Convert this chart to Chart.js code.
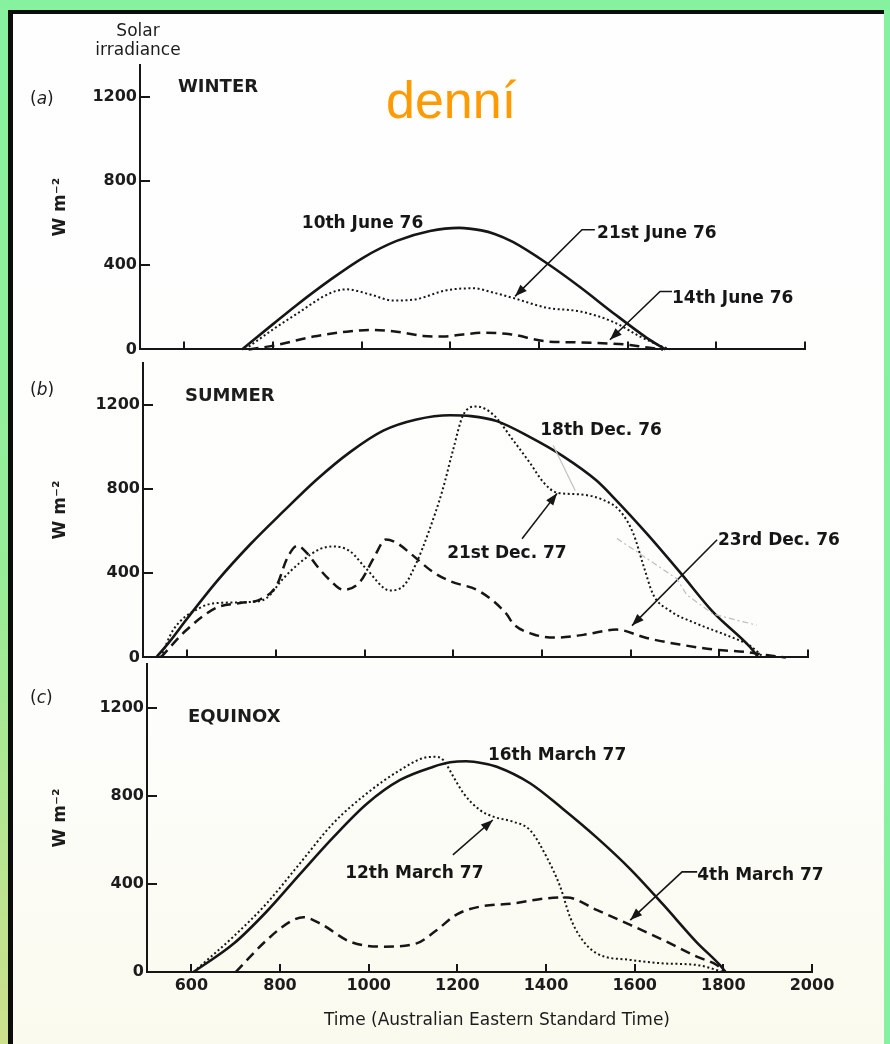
<!DOCTYPE html>
<html><head><meta charset="utf-8">
<script src="https://cdn.jsdelivr.net/npm/chart.js@4.4.1/dist/chart.umd.min.js"></script>
<style>
html,body{margin:0;padding:0;background:#fff;}
#page{position:relative;width:890px;height:1044px;overflow:hidden;background:#86f2a0;}
#leftstrip{position:absolute;left:0;top:0;width:9px;height:1044px;background:linear-gradient(#86f2a0,#98ec98 55%,#cde08c);}
#sheet{position:absolute;left:8px;top:10px;width:876px;height:1034px;background:linear-gradient(#fefefe 0%,#fdfdfb 70%,#fafaee 100%);border-top:4px solid #0c0c0c;border-left:5px solid #0c0c0c;box-sizing:border-box;}
canvas{position:absolute;left:0;}
.t{position:absolute;font-family:"DejaVu Sans";color:#1c1c1c;white-space:nowrap;line-height:1;}
</style></head>
<body>
<div id="page">
  <div id="leftstrip"></div>
  <div id="sheet"></div>
  <canvas id="cA" width="890" height="372" style="top:0px"></canvas>
  <canvas id="cB" width="890" height="340" style="top:340px"></canvas>
  <canvas id="cC" width="890" height="404" style="top:640px"></canvas>
  <div class="t" style="left:138px;top:22px;font-size:17px;transform:translateX(-50%)">Solar</div>
  <div class="t" style="left:138px;top:41px;font-size:17px;transform:translateX(-50%)">irradiance</div>
  <div class="t" style="left:30px;top:90px;font-size:17px">(<i>a</i>)</div>
  <div class="t" style="left:178px;top:77px;font-size:18px;font-weight:bold">WINTER</div>
  <div class="t" style="left:30px;top:381px;font-size:17px">(<i>b</i>)</div>
  <div class="t" style="left:185px;top:386px;font-size:18px;font-weight:bold">SUMMER</div>
  <div class="t" style="left:30px;top:689px;font-size:17px">(<i>c</i>)</div>
  <div class="t" style="left:188px;top:707px;font-size:18px;font-weight:bold">EQUINOX</div>
  <div class="t" style="left:497px;top:1011px;font-size:17px;transform:translateX(-50%)">Time (Australian Eastern Standard Time)</div>
  <div class="t" style="left:386px;top:74px;font-size:52px;font-family:'Liberation Sans';color:#ff9a00">denní</div>
</div>
<script>
// ---- axis ticks ----
const timeTicks = [600, 800, 1000, 1200, 1400, 1600, 1800, 2000];
const irrTicks = [0, 400, 800, 1200];

// ---- (a) WINTER ----
const june10Time = [730, 800, 853, 929, 1003, 1079, 1154, 1220, 1270, 1300, 1341, 1417, 1493, 1568, 1643, 1685];
const june10Irr  = [0, 120, 210, 330, 435, 515, 562, 577, 565, 548, 510, 410, 295, 172, 55, 0];
const june21Time = [737, 800, 853, 929, 966, 1019, 1071, 1117, 1192, 1252, 1300, 1342, 1417, 1493, 1568, 1628, 1673, 1695];
const june21Irr  = [0, 95, 168, 267, 285, 261, 232, 236, 281, 290, 268, 244, 198, 180, 130, 61, 18, 0];
const june14Time = [745, 801, 891, 966, 1019, 1079, 1139, 1184, 1229, 1274, 1335, 1417, 1493, 1568, 1605, 1640, 1680];
const june14Irr  = [0, 18, 61, 84, 92, 84, 64, 61, 71, 79, 72, 38, 33, 27, 21, 10, 0];

// ---- (b) SUMMER ----
const dec18Time = [530, 560, 598, 666, 741, 816, 892, 967, 1042, 1117, 1193, 1240, 1298, 1373, 1448, 1523, 1568, 1636, 1711, 1786, 1869, 1888];
const dec18Irr  = [0, 75, 180, 360, 535, 692, 845, 975, 1077, 1130, 1150, 1146, 1122, 1046, 955, 840, 745, 589, 405, 215, 50, 0];
const dec21Time = [540, 568, 629, 666, 741, 779, 816, 854, 900, 929, 967, 1004, 1057, 1090, 1117, 1145, 1175, 1200, 1222, 1252, 1290, 1335, 1373, 1403, 1433, 1486, 1538, 1576, 1606, 1629, 1651, 1689, 1749, 1824, 1869, 1900];
const dec21Irr  = [0, 130, 236, 258, 263, 282, 374, 450, 515, 527, 504, 420, 318, 345, 450, 600, 790, 990, 1150, 1192, 1153, 1031, 923, 832, 783, 774, 748, 695, 588, 435, 298, 221, 160, 99, 56, 0];
const dec23Time = [540, 598, 666, 719, 764, 802, 825, 848, 870, 892, 920, 952, 990, 1020, 1048, 1075, 1102, 1155, 1193, 1260, 1320, 1335, 1380, 1433, 1493, 1568, 1636, 1711, 1786, 1862, 1910, 1950];
const dec23Irr  = [0, 130, 236, 258, 275, 344, 470, 530, 495, 435, 370, 321, 360, 470, 560, 540, 496, 404, 362, 313, 206, 160, 110, 94, 107, 132, 92, 61, 38, 25, 10, 0];

// ---- (c) EQUINOX ----
const mar16Time = [605, 695, 770, 845, 920, 996, 1071, 1146, 1184, 1220, 1260, 1289, 1364, 1439, 1514, 1590, 1665, 1740, 1793, 1805];
const mar16Irr  = [0, 128, 275, 445, 612, 765, 873, 933, 953, 958, 948, 933, 858, 740, 612, 468, 305, 135, 30, 0];
const mar12Time = [605, 695, 770, 845, 920, 996, 1071, 1131, 1150, 1168, 1191, 1214, 1251, 1281, 1326, 1364, 1401, 1432, 1454, 1477, 1514, 1590, 1665, 1740, 1800];
const mar12Irr  = [0, 161, 312, 494, 676, 812, 918, 976, 978, 964, 888, 812, 736, 706, 683, 645, 524, 388, 251, 160, 85, 55, 39, 32, 0];
const mar4Time  = [700, 770, 823, 853, 890, 958, 1033, 1108, 1150, 1199, 1251, 1326, 1402, 1447, 1514, 1590, 1665, 1740, 1785, 1805];
const mar4Irr   = [0, 145, 229, 249, 221, 138, 115, 130, 185, 262, 297, 312, 335, 339, 282, 214, 145, 70, 32, 0];

// ---- curve labels and pointer arrows (data coordinates) ----
const winterLabels = [
  {text: '10th June 76', x: 865, y: 577},
  {text: '21st June 76', x: 1531, y: 527},
  {text: '14th June 76', x: 1700, y: 220}
];
const winterArrows = [
  {pts: [[1526, 568], [1497, 568], [1346, 252]], head: true},
  {pts: [[1700, 275], [1673, 275], [1560, 46]], head: true}
];
const summerLabels = [
  {text: '18th Dec. 76', x: 1396, y: 1054},
  {text: '21st Dec. 77', x: 1186, y: 472},
  {text: '23rd Dec. 76', x: 1797, y: 536}
];
const summerArrows = [
  {pts: [[1355, 563], [1434, 779]], head: true},
  {pts: [[1795, 559], [1603, 151]], head: true},
  {pts: [[1425, 1008], [1475, 792]], color: '#c4c4c4', width: 1.2},
  {pts: [[1569, 565], [1704, 374], [1726, 298], [1786, 206], [1884, 153]], color: '#bdbdbd', width: 1.2, dash: [6, 3, 2, 3]}
];
const equinoxLabels = [
  {text: '16th March 77', x: 1269, y: 964},
  {text: '12th March 77', x: 947, y: 427},
  {text: '4th March 77', x: 1741, y: 418}
];
const equinoxArrows = [
  {pts: [[1190, 532], [1280, 691]], head: true},
  {pts: [[1741, 455], [1707, 455], [1590, 236]], head: true}
];

const INK = '#161616';

const annotate = {
  id: 'annotate',
  afterDatasetsDraw(chart, args, opts) {
    const {ctx} = chart;
    const xs = chart.scales.x, ys = chart.scales.y;
    const px = v => xs.getPixelForValue(v), py = v => ys.getPixelForValue(v);
    ctx.save();
    (opts.arrows || []).forEach(l => {
      const col = l.color || INK;
      ctx.beginPath();
      ctx.strokeStyle = col;
      ctx.lineWidth = l.width || 1.6;
      ctx.setLineDash(l.dash || []);
      l.pts.forEach((p, i) => i ? ctx.lineTo(px(p[0]), py(p[1])) : ctx.moveTo(px(p[0]), py(p[1])));
      ctx.stroke();
      if (l.head) {
        const n = l.pts.length, a = l.pts[n - 2], b = l.pts[n - 1];
        const x1 = px(a[0]), y1 = py(a[1]), x2 = px(b[0]), y2 = py(b[1]);
        const ang = Math.atan2(y2 - y1, x2 - x1), L = 12, W = 4.5;
        ctx.setLineDash([]);
        ctx.beginPath();
        ctx.moveTo(x2, y2);
        ctx.lineTo(x2 - L * Math.cos(ang) + W * Math.sin(ang), y2 - L * Math.sin(ang) - W * Math.cos(ang));
        ctx.lineTo(x2 - L * Math.cos(ang) - W * Math.sin(ang), y2 - L * Math.sin(ang) + W * Math.cos(ang));
        ctx.closePath();
        ctx.fillStyle = col;
        ctx.fill();
      }
    });
    ctx.setLineDash([]);
    ctx.font = 'bold 17px "DejaVu Sans"';
    ctx.fillStyle = INK;
    ctx.textAlign = 'left';
    ctx.textBaseline = 'alphabetic';
    (opts.labels || []).forEach(t => ctx.fillText(t.text, px(t.x), py(t.y)));
    ctx.restore();
  }
};

function series(times, vals, style) {
  const base = {data: times.map((t, i) => ({x: t, y: vals[i]})), borderColor: INK, pointRadius: 0,
    fill: false, cubicInterpolationMode: 'monotone', clip: 6};
  if (style === 'solid') return Object.assign(base, {borderWidth: 2.6});
  if (style === 'dotted') return Object.assign(base, {borderWidth: 2, borderDash: [2, 2.6]});
  return Object.assign(base, {borderWidth: 2.5, borderDash: [10, 6]});
}

function makePanel(id, p) {
  return new Chart(document.getElementById(id), {
    type: 'line',
    data: {datasets: p.datasets},
    plugins: [annotate],
    options: {
      responsive: false, animation: false, devicePixelRatio: 1, events: [],
      layout: {padding: {top: p.padTop, right: p.padRight, left: 0, bottom: 0}},
      plugins: {legend: {display: false}, tooltip: {enabled: false},
        annotate: {labels: p.labels, arrows: p.arrows}},
      scales: {
        x: {
          type: 'linear', min: 500, max: 2000,
          afterBuildTicks: s => { s.ticks = timeTicks.map(v => ({value: v})); },
          afterFit: s => { s.height = p.xHeight; },
          border: {display: true, color: INK, width: 2},
          grid: {display: true, drawOnChartArea: false, drawTicks: true, tickLength: -8, color: INK, lineWidth: 2},
          ticks: {display: p.showX, autoSkip: false, maxRotation: 0, padding: 12, color: '#1c1c1c',
            callback: v => String(v),
            font: {family: 'DejaVu Sans', size: 16, weight: 'bold'}}
        },
        y: {
          type: 'linear', min: 0, max: p.yMax,
          afterBuildTicks: s => { s.ticks = irrTicks.map(v => ({value: v})); },
          afterFit: s => { s.width = p.left; },
          border: {display: true, color: INK, width: 2},
          grid: {display: true, drawOnChartArea: false, drawTicks: true, tickLength: -10, color: INK, lineWidth: 2},
          ticks: {padding: 13, color: '#1c1c1c', callback: v => String(v),
            font: {family: 'DejaVu Sans', size: 16, weight: 'bold'}},
          title: {display: true, text: 'W m\u207B\u00B2', color: '#1c1c1c', padding: {top: 50, bottom: 0},
            font: {family: 'DejaVu Sans', size: 17, weight: 'bold'}}
        }
      }
    }
  });
}

makePanel('cA', {
  left: 140, padTop: 65, padRight: 85, xHeight: 12, yMax: 1350, showX: false,
  labels: winterLabels, arrows: winterArrows,
  datasets: [series(june10Time, june10Irr, 'solid'), series(june21Time, june21Irr, 'dotted'), series(june14Time, june14Irr, 'dashed')]
});
makePanel('cB', {
  left: 143, padTop: 19, padRight: 82, xHeight: 15, yMax: 1400, showX: false,
  labels: summerLabels, arrows: summerArrows,
  datasets: [series(dec18Time, dec18Irr, 'solid'), series(dec21Time, dec21Irr, 'dotted'), series(dec23Time, dec23Irr, 'dashed')]
});
makePanel('cC', {
  left: 147, padTop: 24, padRight: 78, xHeight: 72, yMax: 1400, showX: true,
  labels: equinoxLabels, arrows: equinoxArrows,
  datasets: [series(mar16Time, mar16Irr, 'solid'), series(mar12Time, mar12Irr, 'dotted'), series(mar4Time, mar4Irr, 'dashed')]
});
</script>
</body></html>
